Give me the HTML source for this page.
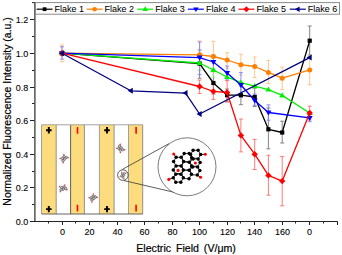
<!DOCTYPE html>
<html><head><meta charset="utf-8"><style>
html,body{margin:0;padding:0;background:#fff;width:342px;height:255px;overflow:hidden}
svg{display:block}
text{font-family:"Liberation Sans",sans-serif;stroke:#000;stroke-width:0.2px;fill:#000}
</style></head><body>
<svg width="342" height="255" viewBox="0 0 342 255">
<rect width="342" height="255" fill="#fff"/>

<rect x="41.5" y="124.8" width="101.19999999999999" height="89.2" fill="#fff"/>
<rect x="41.5" y="124.8" width="14.700000000000003" height="89.2" fill="#FDDC7E"/>
<line x1="41.5" y1="124.8" x2="41.5" y2="214.0" stroke="#8a8a98" stroke-width="0.8"/>
<line x1="56.2" y1="124.8" x2="56.2" y2="214.0" stroke="#7a7a7a" stroke-width="0.8"/>
<rect x="70.6" y="124.8" width="13.800000000000011" height="89.2" fill="#FDDC7E"/>
<line x1="70.6" y1="124.8" x2="70.6" y2="214.0" stroke="#3a3a3a" stroke-width="0.8"/>
<line x1="84.4" y1="124.8" x2="84.4" y2="214.0" stroke="#7a7a7a" stroke-width="0.8"/>
<rect x="99.4" y="124.8" width="14.699999999999989" height="89.2" fill="#FDDC7E"/>
<line x1="99.4" y1="124.8" x2="99.4" y2="214.0" stroke="#8a8a98" stroke-width="0.8"/>
<line x1="114.1" y1="124.8" x2="114.1" y2="214.0" stroke="#7a7a7a" stroke-width="0.8"/>
<rect x="128.5" y="124.8" width="14.199999999999989" height="89.2" fill="#FDDC7E"/>
<line x1="128.5" y1="124.8" x2="128.5" y2="214.0" stroke="#8a8a98" stroke-width="0.8"/>
<line x1="142.7" y1="124.8" x2="142.7" y2="214.0" stroke="#7a7a7a" stroke-width="0.8"/>
<line x1="41.5" y1="124.8" x2="142.7" y2="124.8" stroke="#9a9a9a" stroke-width="0.9"/>
<line x1="41.5" y1="214.0" x2="142.7" y2="214.0" stroke="#555" stroke-width="0.9"/>
<path d="M46.0,130.3 H51.599999999999994 M48.8,127.10000000000001 V133.5" stroke="#000" stroke-width="1.9"/>
<path d="M46.0,209.1 H51.599999999999994 M48.8,205.9 V212.29999999999998" stroke="#000" stroke-width="1.9"/>
<path d="M104.2,130.3 H109.8 M107.0,127.10000000000001 V133.5" stroke="#000" stroke-width="1.9"/>
<path d="M104.2,209.1 H109.8 M107.0,205.9 V212.29999999999998" stroke="#000" stroke-width="1.9"/>
<line x1="77.5" y1="127.10000000000001" x2="77.5" y2="133.70000000000002" stroke="#f00" stroke-width="1.6"/>
<line x1="77.5" y1="204.79999999999998" x2="77.5" y2="211.4" stroke="#f00" stroke-width="1.6"/>
<line x1="136.1" y1="127.10000000000001" x2="136.1" y2="133.70000000000002" stroke="#f00" stroke-width="1.6"/>
<line x1="136.1" y1="204.79999999999998" x2="136.1" y2="211.4" stroke="#f00" stroke-width="1.6"/>
<g transform="translate(63.9,158.3) rotate(45) scale(1.0)"><polygon points="0.35,-1.20 -0.32,-0.03 -1.67,-0.03 -2.35,-1.20 -1.68,-2.37 -0.32,-2.37" fill="#c4c4c4" stroke="#4a4a4a" stroke-width="0.55"/><polygon points="2.35,-2.35 1.68,-1.18 0.33,-1.18 -0.35,-2.35 0.32,-3.52 1.68,-3.52" fill="#c4c4c4" stroke="#4a4a4a" stroke-width="0.55"/><polygon points="0.35,1.20 -0.32,2.37 -1.67,2.37 -2.35,1.20 -1.68,0.03 -0.32,0.03" fill="#c4c4c4" stroke="#4a4a4a" stroke-width="0.55"/><polygon points="2.35,0.00 1.68,1.17 0.33,1.17 -0.35,0.00 0.32,-1.17 1.68,-1.17" fill="#c4c4c4" stroke="#4a4a4a" stroke-width="0.55"/><polygon points="2.35,2.35 1.68,3.52 0.33,3.52 -0.35,2.35 0.32,1.18 1.68,1.18" fill="#c4c4c4" stroke="#4a4a4a" stroke-width="0.55"/><circle cx="-2.6" cy="-2.6" r="0.75" fill="#e02020" opacity="0.85"/><circle cx="2.6" cy="-3.4" r="0.75" fill="#e02020" opacity="0.85"/><circle cx="-2.5" cy="2.9" r="0.75" fill="#e02020" opacity="0.85"/><circle cx="2.6" cy="3.6" r="0.75" fill="#e02020" opacity="0.85"/></g>
<g transform="translate(63.1,188.2) rotate(75) scale(1.0)"><polygon points="0.35,-1.20 -0.32,-0.03 -1.67,-0.03 -2.35,-1.20 -1.68,-2.37 -0.32,-2.37" fill="#c4c4c4" stroke="#4a4a4a" stroke-width="0.55"/><polygon points="2.35,-2.35 1.68,-1.18 0.33,-1.18 -0.35,-2.35 0.32,-3.52 1.68,-3.52" fill="#c4c4c4" stroke="#4a4a4a" stroke-width="0.55"/><polygon points="0.35,1.20 -0.32,2.37 -1.67,2.37 -2.35,1.20 -1.68,0.03 -0.32,0.03" fill="#c4c4c4" stroke="#4a4a4a" stroke-width="0.55"/><polygon points="2.35,0.00 1.68,1.17 0.33,1.17 -0.35,0.00 0.32,-1.17 1.68,-1.17" fill="#c4c4c4" stroke="#4a4a4a" stroke-width="0.55"/><polygon points="2.35,2.35 1.68,3.52 0.33,3.52 -0.35,2.35 0.32,1.18 1.68,1.18" fill="#c4c4c4" stroke="#4a4a4a" stroke-width="0.55"/><circle cx="-2.6" cy="-2.6" r="0.75" fill="#e02020" opacity="0.85"/><circle cx="2.6" cy="-3.4" r="0.75" fill="#e02020" opacity="0.85"/><circle cx="-2.5" cy="2.9" r="0.75" fill="#e02020" opacity="0.85"/><circle cx="2.6" cy="3.6" r="0.75" fill="#e02020" opacity="0.85"/></g>
<g transform="translate(93.0,197.7) rotate(50) scale(1.0)"><polygon points="0.35,-1.20 -0.32,-0.03 -1.67,-0.03 -2.35,-1.20 -1.68,-2.37 -0.32,-2.37" fill="#c4c4c4" stroke="#4a4a4a" stroke-width="0.55"/><polygon points="2.35,-2.35 1.68,-1.18 0.33,-1.18 -0.35,-2.35 0.32,-3.52 1.68,-3.52" fill="#c4c4c4" stroke="#4a4a4a" stroke-width="0.55"/><polygon points="0.35,1.20 -0.32,2.37 -1.67,2.37 -2.35,1.20 -1.68,0.03 -0.32,0.03" fill="#c4c4c4" stroke="#4a4a4a" stroke-width="0.55"/><polygon points="2.35,0.00 1.68,1.17 0.33,1.17 -0.35,0.00 0.32,-1.17 1.68,-1.17" fill="#c4c4c4" stroke="#4a4a4a" stroke-width="0.55"/><polygon points="2.35,2.35 1.68,3.52 0.33,3.52 -0.35,2.35 0.32,1.18 1.68,1.18" fill="#c4c4c4" stroke="#4a4a4a" stroke-width="0.55"/><circle cx="-2.6" cy="-2.6" r="0.75" fill="#e02020" opacity="0.85"/><circle cx="2.6" cy="-3.4" r="0.75" fill="#e02020" opacity="0.85"/><circle cx="-2.5" cy="2.9" r="0.75" fill="#e02020" opacity="0.85"/><circle cx="2.6" cy="3.6" r="0.75" fill="#e02020" opacity="0.85"/></g>
<g transform="translate(120.4,148.6) rotate(-40) scale(1.0)"><polygon points="0.35,-1.20 -0.32,-0.03 -1.67,-0.03 -2.35,-1.20 -1.68,-2.37 -0.32,-2.37" fill="#c4c4c4" stroke="#4a4a4a" stroke-width="0.55"/><polygon points="2.35,-2.35 1.68,-1.18 0.33,-1.18 -0.35,-2.35 0.32,-3.52 1.68,-3.52" fill="#c4c4c4" stroke="#4a4a4a" stroke-width="0.55"/><polygon points="0.35,1.20 -0.32,2.37 -1.67,2.37 -2.35,1.20 -1.68,0.03 -0.32,0.03" fill="#c4c4c4" stroke="#4a4a4a" stroke-width="0.55"/><polygon points="2.35,0.00 1.68,1.17 0.33,1.17 -0.35,0.00 0.32,-1.17 1.68,-1.17" fill="#c4c4c4" stroke="#4a4a4a" stroke-width="0.55"/><polygon points="2.35,2.35 1.68,3.52 0.33,3.52 -0.35,2.35 0.32,1.18 1.68,1.18" fill="#c4c4c4" stroke="#4a4a4a" stroke-width="0.55"/><circle cx="-2.6" cy="-2.6" r="0.75" fill="#e02020" opacity="0.85"/><circle cx="2.6" cy="-3.4" r="0.75" fill="#e02020" opacity="0.85"/><circle cx="-2.5" cy="2.9" r="0.75" fill="#e02020" opacity="0.85"/><circle cx="2.6" cy="3.6" r="0.75" fill="#e02020" opacity="0.85"/></g>
<circle cx="122.9" cy="175.1" r="5.3" fill="#fff" stroke="#333" stroke-width="0.8"/>
<g transform="translate(122.9,175.1) rotate(20) scale(0.85)"><polygon points="0.35,-1.20 -0.32,-0.03 -1.67,-0.03 -2.35,-1.20 -1.68,-2.37 -0.32,-2.37" fill="#c4c4c4" stroke="#4a4a4a" stroke-width="0.55"/><polygon points="2.35,-2.35 1.68,-1.18 0.33,-1.18 -0.35,-2.35 0.32,-3.52 1.68,-3.52" fill="#c4c4c4" stroke="#4a4a4a" stroke-width="0.55"/><polygon points="0.35,1.20 -0.32,2.37 -1.67,2.37 -2.35,1.20 -1.68,0.03 -0.32,0.03" fill="#c4c4c4" stroke="#4a4a4a" stroke-width="0.55"/><polygon points="2.35,0.00 1.68,1.17 0.33,1.17 -0.35,0.00 0.32,-1.17 1.68,-1.17" fill="#c4c4c4" stroke="#4a4a4a" stroke-width="0.55"/><polygon points="2.35,2.35 1.68,3.52 0.33,3.52 -0.35,2.35 0.32,1.18 1.68,1.18" fill="#c4c4c4" stroke="#4a4a4a" stroke-width="0.55"/><circle cx="-2.6" cy="-2.6" r="0.75" fill="#e02020" opacity="0.85"/><circle cx="2.6" cy="-3.4" r="0.75" fill="#e02020" opacity="0.85"/><circle cx="-2.5" cy="2.9" r="0.75" fill="#e02020" opacity="0.85"/><circle cx="2.6" cy="3.6" r="0.75" fill="#e02020" opacity="0.85"/></g>
<line x1="122.4" y1="169.4" x2="169.4" y2="143.4" stroke="#333" stroke-width="0.8"/>
<line x1="124.1" y1="180.6" x2="179.7" y2="193.6" stroke="#333" stroke-width="0.8"/>
<circle cx="187" cy="166.8" r="29" fill="#fff" stroke="#505050" stroke-width="0.75"/>
<polygon points="183.60,161.60 181.10,165.93 176.10,165.93 173.60,161.60 176.10,157.27 181.10,157.27" fill="none" stroke="#000" stroke-width="0.8"/><polygon points="183.30,169.90 180.80,174.23 175.80,174.23 173.30,169.90 175.80,165.57 180.80,165.57" fill="none" stroke="#000" stroke-width="0.8"/><polygon points="183.30,177.80 180.80,182.13 175.80,182.13 173.30,177.80 175.80,173.47 180.80,173.47" fill="none" stroke="#000" stroke-width="0.8"/><polygon points="191.70,157.80 189.20,162.13 184.20,162.13 181.70,157.80 184.20,153.47 189.20,153.47" fill="none" stroke="#000" stroke-width="0.8"/><polygon points="191.60,165.90 189.10,170.23 184.10,170.23 181.60,165.90 184.10,161.57 189.10,161.57" fill="none" stroke="#000" stroke-width="0.8"/><polygon points="191.50,174.30 189.00,178.63 184.00,178.63 181.50,174.30 184.00,169.97 189.00,169.97" fill="none" stroke="#000" stroke-width="0.8"/><polygon points="200.60,154.60 198.10,158.93 193.10,158.93 190.60,154.60 193.10,150.27 198.10,150.27" fill="none" stroke="#000" stroke-width="0.8"/><polygon points="200.10,162.60 197.60,166.93 192.60,166.93 190.10,162.60 192.60,158.27 197.60,158.27" fill="none" stroke="#000" stroke-width="0.8"/><polygon points="199.80,170.60 197.30,174.93 192.30,174.93 189.80,170.60 192.30,166.27 197.30,166.27" fill="none" stroke="#000" stroke-width="0.8"/><line x1="173.7" y1="154.0" x2="176.1" y2="157.3" stroke="#000" stroke-width="0.9"/><line x1="205.3" y1="154.3" x2="200.6" y2="154.6" stroke="#000" stroke-width="0.9"/><line x1="168.8" y1="179.4" x2="173.3" y2="177.8" stroke="#000" stroke-width="0.9"/><line x1="200.6" y1="177.3" x2="197.3" y2="174.9" stroke="#000" stroke-width="0.9"/><circle cx="183.60" cy="161.60" r="1.75" fill="#000"/><circle cx="181.10" cy="165.93" r="1.75" fill="#000"/><circle cx="176.10" cy="165.93" r="1.75" fill="#000"/><circle cx="173.60" cy="161.60" r="1.75" fill="#000"/><circle cx="176.10" cy="157.27" r="1.75" fill="#000"/><circle cx="181.10" cy="157.27" r="1.75" fill="#000"/><circle cx="183.30" cy="169.90" r="1.75" fill="#000"/><circle cx="180.80" cy="174.23" r="1.75" fill="#000"/><circle cx="175.80" cy="174.23" r="1.75" fill="#000"/><circle cx="173.30" cy="169.90" r="1.75" fill="#000"/><circle cx="183.30" cy="177.80" r="1.75" fill="#000"/><circle cx="180.80" cy="182.13" r="1.75" fill="#000"/><circle cx="175.80" cy="182.13" r="1.75" fill="#000"/><circle cx="173.30" cy="177.80" r="1.75" fill="#000"/><circle cx="191.70" cy="157.80" r="1.75" fill="#000"/><circle cx="189.20" cy="162.13" r="1.75" fill="#000"/><circle cx="184.20" cy="153.47" r="1.75" fill="#000"/><circle cx="189.20" cy="153.47" r="1.75" fill="#000"/><circle cx="191.60" cy="165.90" r="1.75" fill="#000"/><circle cx="189.10" cy="170.23" r="1.75" fill="#000"/><circle cx="191.50" cy="174.30" r="1.75" fill="#000"/><circle cx="189.00" cy="178.63" r="1.75" fill="#000"/><circle cx="200.60" cy="154.60" r="1.75" fill="#000"/><circle cx="198.10" cy="158.93" r="1.75" fill="#000"/><circle cx="193.10" cy="158.93" r="1.75" fill="#000"/><circle cx="190.60" cy="154.60" r="1.75" fill="#000"/><circle cx="193.10" cy="150.27" r="1.75" fill="#000"/><circle cx="198.10" cy="150.27" r="1.75" fill="#000"/><circle cx="200.10" cy="162.60" r="1.75" fill="#000"/><circle cx="197.60" cy="166.93" r="1.75" fill="#000"/><circle cx="192.60" cy="166.93" r="1.75" fill="#000"/><circle cx="199.80" cy="170.60" r="1.75" fill="#000"/><circle cx="197.30" cy="174.93" r="1.75" fill="#000"/><circle cx="173.7" cy="154.0" r="1.55" fill="#f00"/><circle cx="205.3" cy="154.3" r="1.55" fill="#f00"/><circle cx="195.4" cy="163.0" r="1.55" fill="#f00"/><circle cx="178.1" cy="170.4" r="1.55" fill="#f00"/><circle cx="168.8" cy="179.4" r="1.55" fill="#f00"/><circle cx="200.6" cy="177.3" r="1.55" fill="#f00"/>
<line x1="34.9" y1="2.0" x2="34.9" y2="222.0" stroke="#2a2a2a" stroke-width="1.2"/>
<line x1="34.0" y1="221.5" x2="337.7" y2="221.5" stroke="#222" stroke-width="1"/>
<line x1="30.0" y1="221.50" x2="34.5" y2="221.50" stroke="#222" stroke-width="1"/>
<text x="28.3" y="224.50" font-size="9" text-anchor="end" style="stroke-width:0.1px">0.0</text>
<line x1="32.0" y1="204.50" x2="34.5" y2="204.50" stroke="#222" stroke-width="1"/>
<line x1="30.0" y1="187.50" x2="34.5" y2="187.50" stroke="#222" stroke-width="1"/>
<text x="28.3" y="190.50" font-size="9" text-anchor="end" style="stroke-width:0.1px">0.2</text>
<line x1="32.0" y1="171.50" x2="34.5" y2="171.50" stroke="#222" stroke-width="1"/>
<line x1="30.0" y1="154.50" x2="34.5" y2="154.50" stroke="#222" stroke-width="1"/>
<text x="28.3" y="157.50" font-size="9" text-anchor="end" style="stroke-width:0.1px">0.4</text>
<line x1="32.0" y1="137.50" x2="34.5" y2="137.50" stroke="#222" stroke-width="1"/>
<line x1="30.0" y1="120.50" x2="34.5" y2="120.50" stroke="#222" stroke-width="1"/>
<text x="28.3" y="123.50" font-size="9" text-anchor="end" style="stroke-width:0.1px">0.6</text>
<line x1="32.0" y1="103.50" x2="34.5" y2="103.50" stroke="#222" stroke-width="1"/>
<line x1="30.0" y1="87.50" x2="34.5" y2="87.50" stroke="#222" stroke-width="1"/>
<text x="28.3" y="90.50" font-size="9" text-anchor="end" style="stroke-width:0.1px">0.8</text>
<line x1="32.0" y1="70.50" x2="34.5" y2="70.50" stroke="#222" stroke-width="1"/>
<line x1="30.0" y1="53.50" x2="34.5" y2="53.50" stroke="#222" stroke-width="1"/>
<text x="28.3" y="56.50" font-size="9" text-anchor="end" style="stroke-width:0.1px">1.0</text>
<line x1="32.0" y1="36.50" x2="34.5" y2="36.50" stroke="#222" stroke-width="1"/>
<line x1="30.0" y1="19.50" x2="34.5" y2="19.50" stroke="#222" stroke-width="1"/>
<text x="28.3" y="22.50" font-size="9" text-anchor="end" style="stroke-width:0.1px">1.2</text>
<line x1="32.0" y1="2.60" x2="34.5" y2="2.60" stroke="#222" stroke-width="1"/>
<line x1="48.50" y1="221.5" x2="48.50" y2="223.5" stroke="#222" stroke-width="1"/>
<line x1="62.50" y1="221.5" x2="62.50" y2="225.0" stroke="#222" stroke-width="1"/>
<text x="62.50" y="235.3" font-size="9" text-anchor="middle" style="stroke-width:0.1px">0</text>
<line x1="75.50" y1="221.5" x2="75.50" y2="223.5" stroke="#222" stroke-width="1"/>
<line x1="89.50" y1="221.5" x2="89.50" y2="225.0" stroke="#222" stroke-width="1"/>
<text x="89.50" y="235.3" font-size="9" text-anchor="middle" style="stroke-width:0.1px">20</text>
<line x1="103.50" y1="221.5" x2="103.50" y2="223.5" stroke="#222" stroke-width="1"/>
<line x1="117.50" y1="221.5" x2="117.50" y2="225.0" stroke="#222" stroke-width="1"/>
<text x="117.50" y="235.3" font-size="9" text-anchor="middle" style="stroke-width:0.1px">40</text>
<line x1="130.50" y1="221.5" x2="130.50" y2="223.5" stroke="#222" stroke-width="1"/>
<line x1="144.50" y1="221.5" x2="144.50" y2="225.0" stroke="#222" stroke-width="1"/>
<text x="144.50" y="235.3" font-size="9" text-anchor="middle" style="stroke-width:0.1px">60</text>
<line x1="158.50" y1="221.5" x2="158.50" y2="223.5" stroke="#222" stroke-width="1"/>
<line x1="172.50" y1="221.5" x2="172.50" y2="225.0" stroke="#222" stroke-width="1"/>
<text x="172.50" y="235.3" font-size="9" text-anchor="middle" style="stroke-width:0.1px">80</text>
<line x1="185.50" y1="221.5" x2="185.50" y2="223.5" stroke="#222" stroke-width="1"/>
<line x1="199.50" y1="221.5" x2="199.50" y2="225.0" stroke="#222" stroke-width="1"/>
<text x="199.50" y="235.3" font-size="9" text-anchor="middle" style="stroke-width:0.1px">100</text>
<line x1="213.50" y1="221.5" x2="213.50" y2="223.5" stroke="#222" stroke-width="1"/>
<line x1="227.50" y1="221.5" x2="227.50" y2="225.0" stroke="#222" stroke-width="1"/>
<text x="227.50" y="235.3" font-size="9" text-anchor="middle" style="stroke-width:0.1px">120</text>
<line x1="240.50" y1="221.5" x2="240.50" y2="223.5" stroke="#222" stroke-width="1"/>
<line x1="254.50" y1="221.5" x2="254.50" y2="225.0" stroke="#222" stroke-width="1"/>
<text x="254.50" y="235.3" font-size="9" text-anchor="middle" style="stroke-width:0.1px">140</text>
<line x1="268.50" y1="221.5" x2="268.50" y2="223.5" stroke="#222" stroke-width="1"/>
<line x1="282.50" y1="221.5" x2="282.50" y2="225.0" stroke="#222" stroke-width="1"/>
<text x="282.50" y="235.3" font-size="9" text-anchor="middle" style="stroke-width:0.1px">160</text>
<line x1="295.50" y1="221.5" x2="295.50" y2="223.5" stroke="#222" stroke-width="1"/>
<line x1="309.50" y1="221.5" x2="309.50" y2="225.0" stroke="#222" stroke-width="1"/>
<text x="309.50" y="235.3" font-size="9" text-anchor="middle" style="stroke-width:0.1px">0</text>
<line x1="323.50" y1="221.5" x2="323.50" y2="223.5" stroke="#222" stroke-width="1"/>
<line x1="337.50" y1="221.5" x2="337.50" y2="225.0" stroke="#222" stroke-width="1"/>
<text x="186.1" y="251.6" font-size="10.6" word-spacing="2" text-anchor="middle" fill="#111">Electric Field (V/μm)</text>
<text transform="translate(11.2,111.4) rotate(-90)" x="0" y="0" font-size="10.5" text-anchor="middle" fill="#111">Normalized Fluorescence Intensity (a.u.)</text>
<path d="M199.6,50 V78.2 M197.6,50 H201.6 M197.6,78.2 H201.6" stroke="#767676" stroke-width="0.9" fill="none"/>
<path d="M213.4,71 V94 M211.4,71 H215.4 M211.4,94 H215.4" stroke="#767676" stroke-width="0.9" fill="none"/>
<path d="M227.1,89 V101.8 M225.1,89 H229.1 M225.1,101.8 H229.1" stroke="#767676" stroke-width="0.9" fill="none"/>
<path d="M240.9,86 V104.7 M238.9,86 H242.9 M238.9,104.7 H242.9" stroke="#767676" stroke-width="0.9" fill="none"/>
<path d="M254.7,88 V106.5 M252.7,88 H256.7 M252.7,106.5 H256.7" stroke="#767676" stroke-width="0.9" fill="none"/>
<path d="M268.4,108 V148.8 M266.4,108 H270.4 M266.4,148.8 H270.4" stroke="#767676" stroke-width="0.9" fill="none"/>
<path d="M282.2,121.2 V143 M280.2,121.2 H284.2 M280.2,143 H284.2" stroke="#767676" stroke-width="0.9" fill="none"/>
<path d="M309.7,26 V55 M307.7,26 H311.7 M307.7,55 H311.7" stroke="#767676" stroke-width="0.9" fill="none"/>
<path d="M62,45 V61.8 M60,45 H64 M60,61.8 H64" stroke="#FFBF80" stroke-width="0.9" fill="none"/>
<path d="M199.6,40.9 V70 M197.6,40.9 H201.6 M197.6,70 H201.6" stroke="#FFBF80" stroke-width="0.9" fill="none"/>
<path d="M213.4,41.3 V72 M211.4,41.3 H215.4 M211.4,72 H215.4" stroke="#FFBF80" stroke-width="0.9" fill="none"/>
<path d="M227.1,52.7 V68.2 M225.1,52.7 H229.1 M225.1,68.2 H229.1" stroke="#FFBF80" stroke-width="0.9" fill="none"/>
<path d="M240.9,54.2 V75 M238.9,54.2 H242.9 M238.9,75 H242.9" stroke="#FFBF80" stroke-width="0.9" fill="none"/>
<path d="M254.7,57 V77.6 M252.7,57 H256.7 M252.7,77.6 H256.7" stroke="#FFBF80" stroke-width="0.9" fill="none"/>
<path d="M268.4,60.4 V83.5 M266.4,60.4 H270.4 M266.4,83.5 H270.4" stroke="#FFBF80" stroke-width="0.9" fill="none"/>
<path d="M282.2,67 V89.6 M280.2,67 H284.2 M280.2,89.6 H284.2" stroke="#FFBF80" stroke-width="0.9" fill="none"/>
<path d="M309.7,56 V84.7 M307.7,56 H311.7 M307.7,84.7 H311.7" stroke="#FFBF80" stroke-width="0.9" fill="none"/>
<path d="M199.6,56 V70 M197.6,56 H201.6 M197.6,70 H201.6" stroke="#90F090" stroke-width="0.9" fill="none"/>
<path d="M213.4,63 V77 M211.4,63 H215.4 M211.4,77 H215.4" stroke="#90F090" stroke-width="0.9" fill="none"/>
<path d="M62,46.8 V59.1 M60,46.8 H64 M60,59.1 H64" stroke="#8080FF" stroke-width="0.9" fill="none"/>
<path d="M199.6,42 V74.7 M197.6,42 H201.6 M197.6,74.7 H201.6" stroke="#8080FF" stroke-width="0.9" fill="none"/>
<path d="M213.4,55 V69 M211.4,55 H215.4 M211.4,69 H215.4" stroke="#8080FF" stroke-width="0.9" fill="none"/>
<path d="M227.1,66 V80 M225.1,66 H229.1 M225.1,80 H229.1" stroke="#8080FF" stroke-width="0.9" fill="none"/>
<path d="M240.9,72.6 V97 M238.9,72.6 H242.9 M238.9,97 H242.9" stroke="#8080FF" stroke-width="0.9" fill="none"/>
<path d="M254.7,94 V105.3 M252.7,94 H256.7 M252.7,105.3 H256.7" stroke="#8080FF" stroke-width="0.9" fill="none"/>
<path d="M268.4,104.9 V120.2 M266.4,104.9 H270.4 M266.4,120.2 H270.4" stroke="#8080FF" stroke-width="0.9" fill="none"/>
<path d="M309.7,112 V121.7 M307.7,112 H311.7 M307.7,121.7 H311.7" stroke="#8080FF" stroke-width="0.9" fill="none"/>
<path d="M199.6,80 V93.5 M197.6,80 H201.6 M197.6,93.5 H201.6" stroke="#FF6A6A" stroke-width="0.9" fill="none"/>
<path d="M213.4,83.5 V99.4 M211.4,83.5 H215.4 M211.4,99.4 H215.4" stroke="#FF6A6A" stroke-width="0.9" fill="none"/>
<path d="M227.1,80.6 V101.8 M225.1,80.6 H229.1 M225.1,101.8 H229.1" stroke="#FF6A6A" stroke-width="0.9" fill="none"/>
<path d="M240.9,119 V151.9 M238.9,119 H242.9 M238.9,151.9 H242.9" stroke="#FF6A6A" stroke-width="0.9" fill="none"/>
<path d="M254.7,139.4 V169.5 M252.7,139.4 H256.7 M252.7,169.5 H256.7" stroke="#FF6A6A" stroke-width="0.9" fill="none"/>
<path d="M268.4,155.2 V195.2 M266.4,155.2 H270.4 M266.4,195.2 H270.4" stroke="#FF6A6A" stroke-width="0.9" fill="none"/>
<path d="M282.2,156.6 V205.8 M280.2,156.6 H284.2 M280.2,205.8 H284.2" stroke="#FF6A6A" stroke-width="0.9" fill="none"/>
<path d="M309.7,106.2 V120 M307.7,106.2 H311.7 M307.7,120 H311.7" stroke="#FF6A6A" stroke-width="0.9" fill="none"/>
<polyline points="62,53.2 199.6,63.6 213.4,83 227.1,95.2 240.9,95.2 254.7,97 268.4,129.3 282.2,132.5 309.7,40.7" fill="none" stroke="#000000" stroke-width="1.3" stroke-linejoin="round"/>
<rect x="59.90" y="51.10" width="4.20" height="4.20" fill="#000000"/>
<rect x="197.50" y="61.50" width="4.20" height="4.20" fill="#000000"/>
<rect x="211.30" y="80.90" width="4.20" height="4.20" fill="#000000"/>
<rect x="225.00" y="93.10" width="4.20" height="4.20" fill="#000000"/>
<rect x="238.80" y="93.10" width="4.20" height="4.20" fill="#000000"/>
<rect x="252.60" y="94.90" width="4.20" height="4.20" fill="#000000"/>
<rect x="266.30" y="127.20" width="4.20" height="4.20" fill="#000000"/>
<rect x="280.10" y="130.40" width="4.20" height="4.20" fill="#000000"/>
<rect x="307.60" y="38.60" width="4.20" height="4.20" fill="#000000"/>
<polyline points="62,53.2 199.6,54.8 213.4,56.5 227.1,60 240.9,64.7 254.7,66.5 268.4,72.4 282.2,78.2 309.7,69.9" fill="none" stroke="#FF7F00" stroke-width="1.3" stroke-linejoin="round"/>
<circle cx="62.00" cy="53.20" r="2.50" fill="#FF7F00"/>
<circle cx="199.60" cy="54.80" r="2.50" fill="#FF7F00"/>
<circle cx="213.40" cy="56.50" r="2.50" fill="#FF7F00"/>
<circle cx="227.10" cy="60.00" r="2.50" fill="#FF7F00"/>
<circle cx="240.90" cy="64.70" r="2.50" fill="#FF7F00"/>
<circle cx="254.70" cy="66.50" r="2.50" fill="#FF7F00"/>
<circle cx="268.40" cy="72.40" r="2.50" fill="#FF7F00"/>
<circle cx="282.20" cy="78.20" r="2.50" fill="#FF7F00"/>
<circle cx="309.70" cy="69.90" r="2.50" fill="#FF7F00"/>
<polyline points="62,53.2 199.6,63 213.4,70 227.1,77 240.9,82.6 254.7,86.2 268.4,89.6 282.2,95.4 309.7,113" fill="none" stroke="#00F000" stroke-width="1.3" stroke-linejoin="round"/>
<polygon points="62.00,50.10 65.00,55.20 59.00,55.20" fill="#00F000"/>
<polygon points="199.60,59.90 202.60,65.00 196.60,65.00" fill="#00F000"/>
<polygon points="213.40,66.90 216.40,72.00 210.40,72.00" fill="#00F000"/>
<polygon points="227.10,73.90 230.10,79.00 224.10,79.00" fill="#00F000"/>
<polygon points="240.90,79.50 243.90,84.60 237.90,84.60" fill="#00F000"/>
<polygon points="254.70,83.10 257.70,88.20 251.70,88.20" fill="#00F000"/>
<polygon points="268.40,86.50 271.40,91.60 265.40,91.60" fill="#00F000"/>
<polygon points="282.20,92.30 285.20,97.40 279.20,97.40" fill="#00F000"/>
<polygon points="309.70,109.90 312.70,115.00 306.70,115.00" fill="#00F000"/>
<polyline points="62,53.2 199.6,57.6 213.4,62 227.1,73 240.9,85 254.7,100.5 268.4,112.5 309.7,117.9" fill="none" stroke="#0000FF" stroke-width="1.3" stroke-linejoin="round"/>
<polygon points="62.00,56.30 65.00,51.20 59.00,51.20" fill="#0000FF"/>
<polygon points="199.60,60.70 202.60,55.60 196.60,55.60" fill="#0000FF"/>
<polygon points="213.40,65.10 216.40,60.00 210.40,60.00" fill="#0000FF"/>
<polygon points="227.10,76.10 230.10,71.00 224.10,71.00" fill="#0000FF"/>
<polygon points="240.90,88.10 243.90,83.00 237.90,83.00" fill="#0000FF"/>
<polygon points="254.70,103.60 257.70,98.50 251.70,98.50" fill="#0000FF"/>
<polygon points="268.40,115.60 271.40,110.50 265.40,110.50" fill="#0000FF"/>
<polygon points="309.70,121.00 312.70,115.90 306.70,115.90" fill="#0000FF"/>
<polyline points="62,53.2 199.6,86.5 213.4,91.4 227.1,92.5 240.9,135.4 254.7,154.2 268.4,175.4 282.2,181.1 309.7,113" fill="none" stroke="#FF0000" stroke-width="1.3" stroke-linejoin="round"/>
<polygon points="62.00,50.00 65.20,53.20 62.00,56.40 58.80,53.20" fill="#FF0000"/>
<polygon points="199.60,83.30 202.80,86.50 199.60,89.70 196.40,86.50" fill="#FF0000"/>
<polygon points="213.40,88.20 216.60,91.40 213.40,94.60 210.20,91.40" fill="#FF0000"/>
<polygon points="227.10,89.30 230.30,92.50 227.10,95.70 223.90,92.50" fill="#FF0000"/>
<polygon points="240.90,132.20 244.10,135.40 240.90,138.60 237.70,135.40" fill="#FF0000"/>
<polygon points="254.70,151.00 257.90,154.20 254.70,157.40 251.50,154.20" fill="#FF0000"/>
<polygon points="268.40,172.20 271.60,175.40 268.40,178.60 265.20,175.40" fill="#FF0000"/>
<polygon points="282.20,177.90 285.40,181.10 282.20,184.30 279.00,181.10" fill="#FF0000"/>
<polygon points="309.70,109.80 312.90,113.00 309.70,116.20 306.50,113.00" fill="#FF0000"/>
<polyline points="62,53.2 130.8,90.8 185.5,93.1 199.6,114 309.7,57.6" fill="none" stroke="#000080" stroke-width="1.3" stroke-linejoin="round"/>
<polygon points="58.90,53.20 64.00,50.20 64.00,56.20" fill="#000080"/>
<polygon points="127.70,90.80 132.80,87.80 132.80,93.80" fill="#000080"/>
<polygon points="182.40,93.10 187.50,90.10 187.50,96.10" fill="#000080"/>
<polygon points="196.50,114.00 201.60,111.00 201.60,117.00" fill="#000080"/>
<polygon points="306.60,57.60 311.70,54.60 311.70,60.60" fill="#000080"/>
<rect x="35.5" y="2.6" width="304" height="11.6" fill="#fff" stroke="#8a8a8a" stroke-width="1"/>
<line x1="36.6" y1="9.2" x2="52.6" y2="9.2" stroke="#000000" stroke-width="1.2"/>
<rect x="42.70" y="7.30" width="3.80" height="3.80" fill="#000000"/>
<text x="54.6" y="11.7" font-size="9" style="stroke-width:0.05px">Flake 1</text>
<line x1="86.6" y1="9.2" x2="102.6" y2="9.2" stroke="#FF7F00" stroke-width="1.2"/>
<circle cx="94.60" cy="9.20" r="2.30" fill="#FF7F00"/>
<text x="104.6" y="11.7" font-size="9" style="stroke-width:0.05px">Flake 2</text>
<line x1="137.2" y1="9.2" x2="153.2" y2="9.2" stroke="#00F000" stroke-width="1.2"/>
<polygon points="145.20,6.30 148.00,11.00 142.40,11.00" fill="#00F000"/>
<text x="155.2" y="11.7" font-size="9" style="stroke-width:0.05px">Flake 3</text>
<line x1="187.9" y1="9.2" x2="203.9" y2="9.2" stroke="#0000FF" stroke-width="1.2"/>
<polygon points="195.90,12.10 198.70,7.40 193.10,7.40" fill="#0000FF"/>
<text x="205.9" y="11.7" font-size="9" style="stroke-width:0.05px">Flake 4</text>
<line x1="238.4" y1="9.2" x2="254.4" y2="9.2" stroke="#FF0000" stroke-width="1.2"/>
<polygon points="246.40,6.20 249.40,9.20 246.40,12.20 243.40,9.20" fill="#FF0000"/>
<text x="256.4" y="11.7" font-size="9" style="stroke-width:0.05px">Flake 5</text>
<line x1="289.8" y1="9.2" x2="305.8" y2="9.2" stroke="#000080" stroke-width="1.2"/>
<polygon points="294.90,9.20 299.60,6.40 299.60,12.00" fill="#000080"/>
<text x="307.8" y="11.7" font-size="9" style="stroke-width:0.05px">Flake 6</text>
</svg></body></html>
